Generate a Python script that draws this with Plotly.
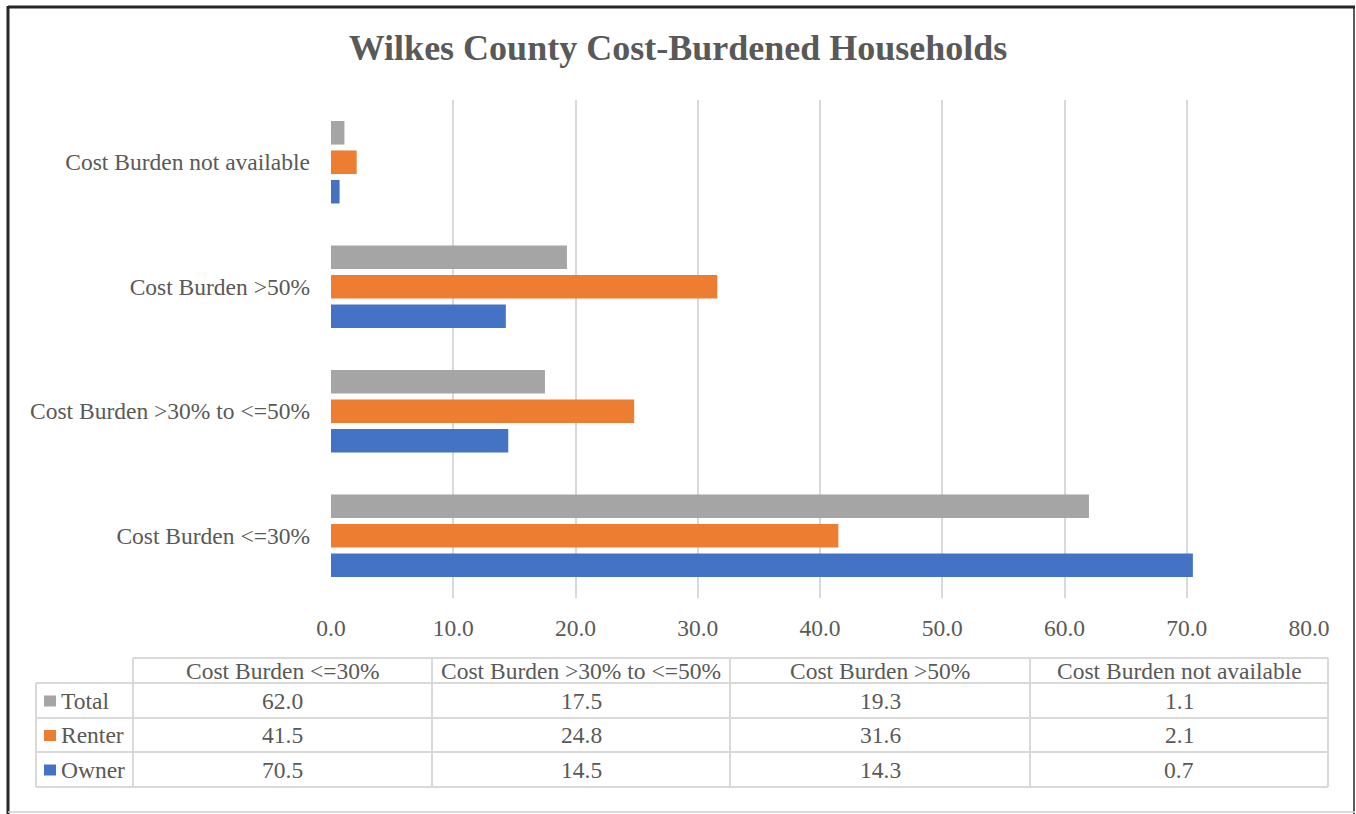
import plotly.graph_objects as go

W, H = 1356, 814

categories = ["Cost Burden <=30%", "Cost Burden >30% to <=50%",
              "Cost Burden >50%", "Cost Burden not available"]
total = [62.0, 17.5, 19.3, 1.1]
renter = [41.5, 24.8, 31.6, 2.1]
owner = [70.5, 14.5, 14.3, 0.7]
x_ticks = [0, 10, 20, 30, 40, 50, 60, 70, 80]

series = [("Owner", owner, "#4472C4"),
          ("Renter", renter, "#ED7D31"),
          ("Total", total, "#A5A5A5")]

FONT = "Liberation Serif, Times New Roman, serif"
TXT = "#595959"
GRID = "#D9D9D9"
FS = 23.5

fig = go.Figure()
for name, vals, col in series:
    fig.add_trace(go.Bar(y=categories, x=vals, name=name, orientation="h",
                         marker=dict(color=col, line=dict(width=0))))


def px(x):
    return x / W


def py(y):
    return 1 - y / H


# plot area in pixels
PL, PR, PT, PB = 331, 1309, 100, 598

fig.update_layout(
    width=W, height=H,
    margin=dict(l=0, r=0, t=0, b=0, pad=0, autoexpand=False),
    paper_bgcolor="white", plot_bgcolor="white",
    barmode="group", bargap=0.29, bargroupgap=0.2,
    showlegend=False,
    font=dict(family=FONT, color=TXT, size=FS),
    title=dict(text="<b>Wilkes County Cost-Burdened Households</b>",
               x=0.5, xanchor="center", y=py(47), yanchor="middle",
               font=dict(family=FONT, size=36, color=TXT), automargin=False),
    xaxis=dict(domain=[px(PL), px(PR)], range=[0, 80], tickvals=x_ticks,
               ticktext=[f"{v:.1f}" for v in x_ticks],
               showgrid=True, gridcolor=GRID, gridwidth=2,
               zeroline=False, showline=False, ticks="", automargin=False,
               ticklabelstandoff=13,
               tickfont=dict(family=FONT, size=FS, color=TXT)),
    yaxis=dict(domain=[py(PB), py(PT)], categoryorder="array",
               categoryarray=categories, showgrid=False, zeroline=False,
               showline=False, ticks="", ticklabelstandoff=20, automargin=False,
               tickfont=dict(family=FONT, size=FS, color=TXT)),
)

shapes = []
annotations = []

# outer frame
shapes.append(dict(type="line", xref="paper", yref="paper", x0=px(8), x1=px(1355),
                   y0=py(7), y1=py(7), line=dict(color="#262626", width=3)))
shapes.append(dict(type="line", xref="paper", yref="paper", x0=px(8), x1=px(8),
                   y0=py(6), y1=py(814), line=dict(color="#262626", width=3)))
shapes.append(dict(type="line", xref="paper", yref="paper", x0=px(1354), x1=px(1354),
                   y0=py(6), y1=py(814), line=dict(color="#262626", width=1.5)))
shapes.append(dict(type="line", xref="paper", yref="paper", x0=px(8), x1=px(1355),
                   y0=py(812), y1=py(812), line=dict(color="#D0D0D0", width=1.5)))

# data table below the chart
col_edges = [133, 432, 730, 1030, 1328]
key_left = 36
row_edges = [658, 683, 718, 752, 787]
line = dict(color=GRID, width=2)

# horizontal rules
shapes.append(dict(type="line", xref="paper", yref="paper", x0=px(col_edges[0]),
                   x1=px(col_edges[-1]), y0=py(row_edges[0]), y1=py(row_edges[0]), line=line))
for r in row_edges[1:]:
    shapes.append(dict(type="line", xref="paper", yref="paper", x0=px(key_left),
                       x1=px(col_edges[-1]), y0=py(r), y1=py(r), line=line))
# vertical rules
shapes.append(dict(type="line", xref="paper", yref="paper", x0=px(key_left), x1=px(key_left),
                   y0=py(row_edges[1]), y1=py(row_edges[-1]), line=line))
for c in col_edges:
    shapes.append(dict(type="line", xref="paper", yref="paper", x0=px(c), x1=px(c),
                       y0=py(row_edges[0]), y1=py(row_edges[-1]), line=line))

# header cells
for i, cat in enumerate(categories):
    cx = (col_edges[i] + col_edges[i + 1]) / 2
    cy = (row_edges[0] + row_edges[1]) / 2
    annotations.append(dict(x=px(cx), y=py(cy), xref="paper", yref="paper", text=cat,
                            showarrow=False, xanchor="center", yanchor="middle",
                            font=dict(family=FONT, size=FS, color=TXT)))

# value rows, top to bottom: Total, Renter, Owner
for r, (name, vals, col) in enumerate(reversed(series)):
    cy = (row_edges[r + 1] + row_edges[r + 2]) / 2
    shapes.append(dict(type="rect", xref="paper", yref="paper", x0=px(44), x1=px(56),
                       y0=py(cy - 5), y1=py(cy + 6), fillcolor=col, line=dict(width=0)))
    annotations.append(dict(x=px(59), y=py(cy), xref="paper", yref="paper", text=name,
                            showarrow=False, xanchor="left", yanchor="middle",
                            font=dict(family=FONT, size=FS, color=TXT)))
    for i, v in enumerate(vals):
        cx = (col_edges[i] + col_edges[i + 1]) / 2
        annotations.append(dict(x=px(cx), y=py(cy), xref="paper", yref="paper",
                                text=f"{v:.1f}", showarrow=False, xanchor="center",
                                yanchor="middle", font=dict(family=FONT, size=FS, color=TXT)))

fig.update_layout(shapes=shapes, annotations=annotations)
fig.write_html(
    "out.html",
    post_script="document.body.style.margin='0';document.body.style.overflow='hidden';",
)
